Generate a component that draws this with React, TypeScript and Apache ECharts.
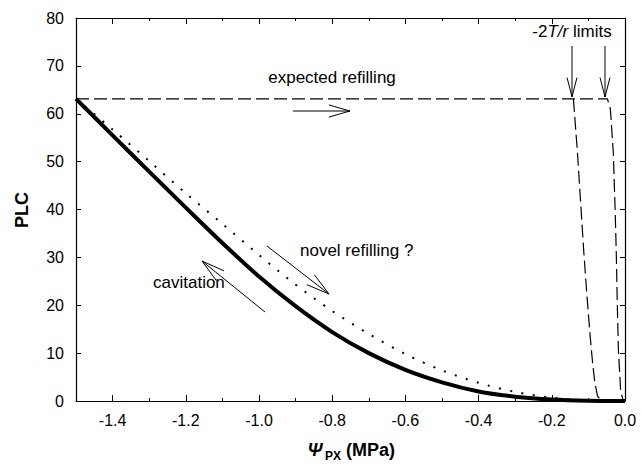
import React, { useEffect, useRef } from "react";
import * as echarts from "echarts";

// ---- data ----
const xTickValues = [-1.4, -1.2, -1.0, -0.8, -0.6, -0.4, -0.2, 0.0];
const yTickValues = [0, 10, 20, 30, 40, 50, 60, 70, 80];

const cavX = [-1.5, -1.4, -1.3, -1.2, -1.1, -1.0, -0.9, -0.8, -0.7, -0.6, -0.5, -0.4, -0.3, -0.2, -0.1, 0.0];
const cavY = [63.1, 55.5, 47.9, 40.4, 33.0, 26.0, 19.8, 14.4, 10.0, 6.5, 3.9, 2.0, 0.9, 0.3, 0.05, 0.0];

const novelX = [-1.5, -1.4, -1.3, -1.2, -1.1, -1.0, -0.9, -0.8, -0.7, -0.6, -0.5, -0.4, -0.3, -0.2, -0.1, 0.0];
const novelY = [63.1, 56.7, 50.1, 43.4, 37.0, 30.5, 24.3, 18.8, 14.0, 9.8, 6.4, 3.8, 1.9, 0.7, 0.1, 0.0];

const limitAX = [-0.141, -0.13, -0.12, -0.113, -0.104, -0.095, -0.088, -0.082, -0.075, -0.065, 0.0];
const limitAY = [63.1, 52, 40, 31.6, 22, 13.4, 7.5, 3.7, 1.0, 0.2, 0.0];

const limitBX = [-1.5, -0.048, -0.04, -0.032, -0.027, -0.024, -0.021, -0.018, -0.012, -0.006, 0.0];
const limitBY = [63.1, 63.1, 61, 52, 40, 31.6, 20, 10.6, 2.3, 0.3, 0.0];

const FONT = "'Liberation Sans', Arial, sans-serif";

function zip(xs: number[], ys: number[]) {
  return xs.map((x, i) => [x, ys[i]]);
}

function arrow(x1: number, y1: number, x2: number, y2: number, len = 16, ang = 0.3) {
  const a = Math.atan2(y2 - y1, x2 - x1);
  const p1 = [x2 - len * Math.cos(a - ang), y2 - len * Math.sin(a - ang)];
  const p2 = [x2 - len * Math.cos(a + ang), y2 - len * Math.sin(a + ang)];
  const style = { stroke: "#000", lineWidth: 1, fill: null };
  return [
    { type: "line", shape: { x1, y1, x2, y2 }, style },
    { type: "polyline", shape: { points: [p1, [x2, y2], p2] }, style },
  ];
}

export default function App() {
  const ref = useRef<HTMLDivElement>(null);
  useEffect(() => {
    if (!ref.current) return;
    const chart = echarts.init(ref.current, null, { renderer: "svg" });
    const axisBase = {
      type: "value",
      min: -1.5,
      max: 0,
      splitLine: { show: false },
    };
    const option: any = {
      animation: false,
      backgroundColor: "#fff",
      grid: { left: 76, right: 16, top: 18, bottom: 70 },
      xAxis: [
        {
          ...axisBase,
          position: "bottom",
          axisLine: { onZero: false, lineStyle: { color: "#000", width: 1.2 } },
          axisTick: { inside: true, length: 6, customValues: xTickValues, lineStyle: { color: "#000" } },
          axisLabel: {
            customValues: xTickValues,
            formatter: (v: number) => v.toFixed(1),
            color: "#000",
            fontSize: 16,
            fontFamily: FONT,
            margin: 11,
          },
        },
        {
          ...axisBase,
          position: "bottom",
          interval: 0.1,
          axisLine: { show: false, onZero: false },
          axisTick: { inside: true, length: 3, lineStyle: { color: "#000" } },
          axisLabel: { show: false },
        },
        {
          ...axisBase,
          position: "top",
          axisLine: { onZero: false, lineStyle: { color: "#000", width: 1.2 } },
          axisTick: { inside: true, length: 6, customValues: xTickValues, lineStyle: { color: "#000" } },
          axisLabel: { show: false },
        },
        {
          ...axisBase,
          position: "top",
          interval: 0.1,
          axisLine: { show: false, onZero: false },
          axisTick: { inside: true, length: 3, lineStyle: { color: "#000" } },
          axisLabel: { show: false },
        },
      ],
      yAxis: [
        {
          type: "value",
          min: 0,
          max: 80,
          interval: 10,
          position: "left",
          splitLine: { show: false },
          axisLine: { show: true, onZero: false, lineStyle: { color: "#000", width: 1.2 } },
          axisTick: { show: true, inside: true, length: 5, lineStyle: { color: "#000" } },
          axisLabel: {
            customValues: yTickValues,
            color: "#000",
            fontSize: 16,
            fontFamily: FONT,
            margin: 12,
          },
        },
        {
          type: "value",
          min: 0,
          max: 80,
          interval: 10,
          position: "right",
          splitLine: { show: false },
          axisLine: { show: true, onZero: false, lineStyle: { color: "#000", width: 1.2 } },
          axisTick: { show: true, inside: true, length: 5, lineStyle: { color: "#000" } },
          axisLabel: { show: false },
        },
      ],
      series: [
        {
          name: "expected refilling limit A",
          type: "line",
          data: zip(limitAX, limitAY),
          showSymbol: false,
          lineStyle: { color: "#000", width: 1.2, type: [13, 5] },
        },
        {
          name: "expected refilling limit B",
          type: "line",
          data: zip(limitBX, limitBY),
          showSymbol: false,
          lineStyle: { color: "#000", width: 1.2, type: [13, 5] },
        },
        {
          name: "novel refilling",
          type: "line",
          data: zip(novelX, novelY),
          smooth: 0.3,
          showSymbol: false,
          lineStyle: { color: "#000", width: 2, type: [2, 9.5] },
        },
        {
          name: "cavitation",
          type: "line",
          data: zip(cavX, cavY),
          smooth: 0.3,
          showSymbol: false,
          lineStyle: { color: "#000", width: 4 },
        },
      ],
      graphic: [
        {
          type: "text",
          x: 22,
          y: 210,
          rotation: Math.PI / 2,
          style: {
            text: "PLC",
            font: `bold 18px ${FONT}`,
            fill: "#000",
            align: "center",
            verticalAlign: "middle",
          },
        },
        {
          type: "text",
          x: 315,
          y: 450,
          style: { text: "Ψ", font: `italic bold 18px ${FONT}`, fill: "#000", align: "center", verticalAlign: "middle" },
        },
        {
          type: "text",
          x: 325,
          y: 456,
          style: { text: "PX", font: `bold 12px ${FONT}`, fill: "#000", align: "left", verticalAlign: "middle" },
        },
        {
          type: "text",
          x: 346,
          y: 450,
          style: { text: "(MPa)", font: `bold 18px ${FONT}`, fill: "#000", align: "left", verticalAlign: "middle" },
        },
        {
          type: "text",
          x: 332,
          y: 77,
          style: { text: "expected refilling", font: `17px ${FONT}`, fill: "#000", align: "center", verticalAlign: "middle" },
        },
        ...arrow(293, 111, 350, 111, 22, 0.28),
        {
          type: "text",
          x: 572,
          y: 31,
          style: {
            text: "{n|-2}{i|T/r}{n| limits}",
            align: "center",
            verticalAlign: "middle",
            rich: {
              n: { font: `17px ${FONT}`, fill: "#000" },
              i: { font: `italic 17px ${FONT}`, fill: "#000" },
            },
          },
        },
        ...arrow(572, 46, 572, 97, 20, 0.25),
        ...arrow(605, 46, 605, 97, 20, 0.25),
        {
          type: "text",
          x: 300,
          y: 250,
          style: { text: "novel refilling ?", font: `17px ${FONT}`, fill: "#000", align: "left", verticalAlign: "middle" },
        },
        ...arrow(267, 246, 329, 294, 24, 0.26),
        {
          type: "text",
          x: 153,
          y: 282,
          style: { text: "cavitation", font: `17px ${FONT}`, fill: "#000", align: "left", verticalAlign: "middle" },
        },
        ...arrow(265, 312, 202, 261, 24, 0.26),
      ],
    };
    chart.setOption(option);
    return () => chart.dispose();
  }, []);
  return <div ref={ref} style={{ width: 641, height: 471, position: "absolute", left: 0, top: 0 }} />;
}
